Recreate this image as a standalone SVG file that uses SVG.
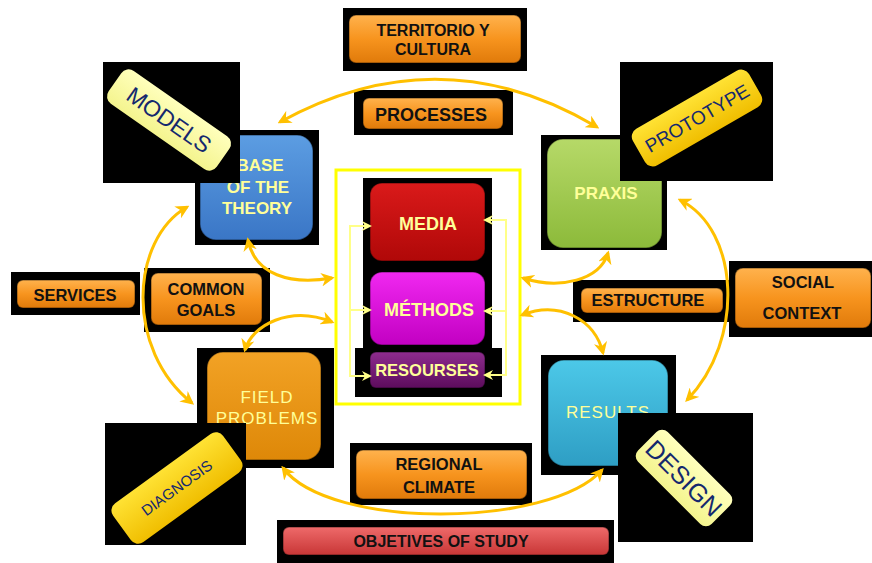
<svg xmlns="http://www.w3.org/2000/svg" width="872" height="563" viewBox="0 0 872 563">
<defs>
<style>
.bg{fill:#000}
.lbl{font-family:"Liberation Sans",Arial,sans-serif;font-weight:bold;fill:#111;text-anchor:middle}
.big{font-family:"Liberation Sans",Arial,sans-serif;font-weight:bold;fill:#FFFF99;text-anchor:middle}
.reg{font-family:"Liberation Sans",Arial,sans-serif;font-weight:normal;fill:#FFFF99;text-anchor:middle;letter-spacing:1px}
.rot{font-family:"Liberation Sans",Arial,sans-serif;fill:#14286E;text-anchor:middle}
.arc{fill:none;stroke:#FFC000;stroke-width:3;marker-start:url(#ah);marker-end:url(#ah)}
.br{fill:none;stroke:#FFFF88;stroke-width:2}
.bx{stroke:rgba(0,0,0,0.35);stroke-width:1.5}
</style>
<linearGradient id="gOr" x1="0" y1="0" x2="0" y2="1"><stop offset="0" stop-color="#FFB24D"/><stop offset="0.5" stop-color="#F7941E"/><stop offset="1" stop-color="#E07A0A"/></linearGradient>
<linearGradient id="gBl" x1="0" y1="0" x2="0" y2="1"><stop offset="0" stop-color="#5C9DE2"/><stop offset="1" stop-color="#3A76C6"/></linearGradient>
<linearGradient id="gGr" x1="0" y1="0" x2="0" y2="1"><stop offset="0" stop-color="#B6D968"/><stop offset="1" stop-color="#8CBA3A"/></linearGradient>
<linearGradient id="gRd" x1="0" y1="0" x2="0" y2="1"><stop offset="0" stop-color="#DA1A1A"/><stop offset="1" stop-color="#B00808"/></linearGradient>
<linearGradient id="gMg" x1="0" y1="0" x2="0" y2="1"><stop offset="0" stop-color="#F028F0"/><stop offset="1" stop-color="#C200C2"/></linearGradient>
<linearGradient id="gPu" x1="0" y1="0" x2="0" y2="1"><stop offset="0" stop-color="#8E2C8E"/><stop offset="1" stop-color="#5C0C5C"/></linearGradient>
<linearGradient id="gFo" x1="0" y1="0" x2="0" y2="1"><stop offset="0" stop-color="#F2A225"/><stop offset="1" stop-color="#DE8808"/></linearGradient>
<linearGradient id="gCy" x1="0" y1="0" x2="0" y2="1"><stop offset="0" stop-color="#4CC8E8"/><stop offset="1" stop-color="#2E9EC4"/></linearGradient>
<linearGradient id="gOb" x1="0" y1="0" x2="0" y2="1"><stop offset="0" stop-color="#EE6A6A"/><stop offset="1" stop-color="#C83636"/></linearGradient>
<linearGradient id="gPy" x1="0" y1="0" x2="0" y2="1"><stop offset="0" stop-color="#FFFFBC"/><stop offset="1" stop-color="#F4F48E"/></linearGradient>
<linearGradient id="gYe" x1="0" y1="0" x2="0" y2="1"><stop offset="0" stop-color="#FFE234"/><stop offset="1" stop-color="#F0BE00"/></linearGradient>
<marker id="ah" viewBox="0 0 10 10" refX="8" refY="5" markerWidth="4.5" markerHeight="4.5" orient="auto-start-reverse" markerUnits="strokeWidth"><path d="M0,0 L10,5 L0,10 L3,5 z" fill="#FFC000"/></marker>
<marker id="ap" viewBox="0 0 10 10" refX="8" refY="5" markerWidth="5" markerHeight="5" orient="auto-start-reverse" markerUnits="strokeWidth"><path d="M0,0 L10,5 L0,10 L3,5 z" fill="#FFFF88"/></marker>
</defs>
<rect width="872" height="563" fill="#fff"/>

<g id="territorio">
<rect class="bg" x="343" y="8" width="184" height="63"/>
<rect class="bx" x="349" y="15" width="172" height="48" rx="7" fill="url(#gOr)"/>
<text class="lbl" x="433" y="36" font-size="16">TERRITORIO Y</text>
<text class="lbl" x="433" y="55" font-size="16">CULTURA</text>
</g>
<g id="processes">
<rect class="bg" x="354" y="90" width="159" height="45"/>
<rect class="bx" x="363" y="98" width="140" height="31" rx="6" fill="url(#gOr)"/>
<text class="lbl" x="431" y="121" font-size="18">PROCESSES</text>
</g>

<g id="base-theory">
<rect class="bg" x="195" y="130" width="124" height="115"/>
<rect class="bx" x="200" y="135" width="113" height="105" rx="16" fill="url(#gBl)"/>
<text class="big" x="260" y="171" font-size="17">BASE</text>
<text class="big" x="258" y="193" font-size="17">OF THE</text>
<text class="big" x="257" y="214" font-size="17">THEORY</text>
</g>
<g id="models">
<rect class="bg" x="103" y="62" width="137" height="121"/>
<g transform="translate(169,120) rotate(35)">
<rect x="-66" y="-20" width="132" height="40" rx="9" fill="url(#gPy)"/>
<text class="rot" x="0" y="8" font-size="23">MODELS</text>
</g>
</g>

<g id="praxis">
<rect class="bg" x="541" y="135" width="126" height="115"/>
<rect class="bx" x="547" y="139" width="115" height="109" rx="16" fill="url(#gGr)"/>
<text class="big" x="606" y="199" font-size="17">PRAXIS</text>
</g>
<g id="prototype">
<rect class="bg" x="620" y="62" width="153" height="119"/>
<g transform="translate(697,118) rotate(-30)">
<rect x="-67" y="-21" width="134" height="42" rx="9" fill="url(#gYe)"/>
<text class="rot" x="0" y="7" font-size="19">PROTOTYPE</text>
</g>
</g>

<g id="core-frame">
<rect x="336" y="170" width="184" height="234" fill="none" stroke="#FFFF00" stroke-width="3"/>
<rect class="bg" x="363" y="178" width="129" height="172"/>
<rect class="bg" x="355" y="348" width="147" height="49"/>
</g>
<g id="media">
<rect class="bx" x="370" y="183" width="115" height="78" rx="12" fill="url(#gRd)"/>
<text class="big" x="428" y="230" font-size="18">MEDIA</text>
</g>
<g id="methods">
<rect class="bx" x="370" y="272" width="115" height="73" rx="12" fill="url(#gMg)"/>
<text class="big" x="429" y="316" font-size="18">MÉTHODS</text>
</g>
<g id="resourses">
<rect class="bx" x="370" y="352" width="115" height="36" rx="6" fill="url(#gPu)"/>
<text class="big" x="427" y="376" font-size="16.5">RESOURSES</text>
</g>

<g id="services">
<rect class="bg" x="11" y="272" width="129" height="43"/>
<rect class="bx" x="17" y="280" width="118" height="28" rx="6" fill="url(#gOr)"/>
<text class="lbl" x="75" y="301" font-size="16.5">SERVICES</text>
</g>
<g id="common-goals">
<rect class="bg" x="144" y="268" width="126" height="64"/>
<rect class="bx" x="151" y="273" width="111" height="52" rx="7" fill="url(#gOr)"/>
<text class="lbl" x="206" y="295" font-size="16.5">COMMON</text>
<text class="lbl" x="206" y="316" font-size="16.5">GOALS</text>
</g>

<g id="field-problems">
<rect class="bg" x="197" y="348" width="137" height="120"/>
<rect class="bx" x="207" y="352" width="114" height="108" rx="16" fill="url(#gFo)"/>
<text class="reg" x="267" y="403" font-size="17">FIELD</text>
<text class="reg" x="267" y="424" font-size="17">PROBLEMS</text>
</g>
<g id="diagnosis">
<rect class="bg" x="105" y="423" width="141" height="122"/>
<g transform="translate(177,488) rotate(-36)">
<rect x="-68" y="-24" width="136" height="48" rx="9" fill="url(#gYe)"/>
<text class="rot" x="0" y="5" font-size="15">DIAGNOSIS</text>
</g>
</g>

<g id="results">
<rect class="bg" x="541" y="355" width="135" height="120"/>
<rect class="bx" x="548" y="360" width="120" height="106" rx="16" fill="url(#gCy)"/>
<text class="reg" x="608" y="418" font-size="17">RESULTS</text>
</g>
<g id="design">
<rect class="bg" x="618" y="413" width="135" height="129"/>
<g transform="translate(684,478) rotate(45)">
<rect x="-52" y="-21" width="104" height="42" rx="8" fill="url(#gPy)"/>
<text class="rot" x="0" y="9" font-size="25">DESIGN</text>
</g>
</g>

<g id="estructure">
<rect class="bg" x="573" y="280" width="156" height="42"/>
<rect class="bx" x="581" y="288" width="142" height="25" rx="6" fill="url(#gOr)"/>
<text class="lbl" x="648" y="306" font-size="16.5">ESTRUCTURE</text>
</g>
<g id="social-context">
<rect class="bg" x="729" y="261" width="143" height="76"/>
<rect class="bx" x="735" y="268" width="136" height="60" rx="8" fill="url(#gOr)"/>
<text class="lbl" x="803" y="288" font-size="16.5">SOCIAL</text>
<text class="lbl" x="802" y="319" font-size="16.5">CONTEXT</text>
</g>

<g id="regional-climate">
<rect class="bg" x="350" y="443" width="182" height="62"/>
<rect class="bx" x="356" y="450" width="171" height="49" rx="7" fill="url(#gOr)"/>
<text class="lbl" x="439" y="470" font-size="16.5">REGIONAL</text>
<text class="lbl" x="439" y="493" font-size="16.5">CLIMATE</text>
</g>
<g id="objetives">
<rect class="bg" x="277" y="520" width="337" height="43"/>
<rect class="bx" x="283" y="527" width="326" height="28" rx="6" fill="url(#gOb)"/>
<text class="lbl" x="441" y="547" font-size="16">OBJETIVES OF STUDY</text>
</g>

<g id="connectors">
<path class="arc" d="M280,122 Q440,34 597,127"/>
<path class="arc" d="M187,207 C130,240 125,350 192,403"/>
<path class="arc" d="M248,240 C255,275 290,285 332,278"/>
<path class="arc" d="M245,350 C252,325 290,305 332,322"/>
<path class="arc" d="M608,253 C600,280 560,290 523,278"/>
<path class="arc" d="M522,315 C560,300 595,320 603,353"/>
<path class="arc" d="M680,200 C740,230 745,340 687,400"/>
<path class="arc" d="M283,468 C330,530 550,528 602,470"/>
<path class="br" d="M370,226 H350 V376 H370" marker-start="url(#ap)" marker-end="url(#ap)"/>
<path class="br" d="M350,310 H370" marker-end="url(#ap)"/>
<path class="br" d="M485,220 H506 V375 H485" marker-start="url(#ap)" marker-end="url(#ap)"/>
<path class="br" d="M506,311 H485" marker-end="url(#ap)"/>
</g>
</svg>
